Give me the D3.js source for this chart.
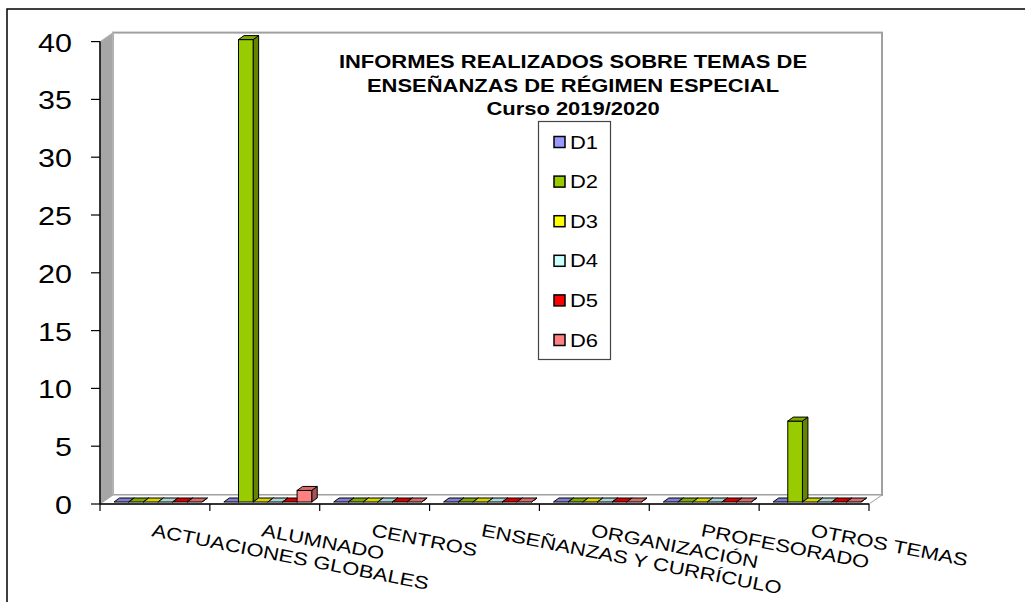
<!DOCTYPE html>
<html><head><meta charset="utf-8">
<script src="https://cdn.jsdelivr.net/npm/d3@7"></script>
<style>html,body{margin:0;padding:0;background:#fff;overflow:hidden}svg{display:block}text{font-family:"Liberation Sans",Arial,sans-serif}</style>
</head><body>
<svg id="c" width="1025" height="602"></svg>
<script>
const categories = ["ACTUACIONES GLOBALES","ALUMNADO","CENTROS","ENSEÑANZAS Y CURRÍCULO","ORGANIZACIÓN","PROFESORADO","OTROS TEMAS"];
const seriesNames = ["D1","D2","D3","D4","D5","D6"];
const D1 = [0,0,0,0,0,0,0];
const D2 = [0,40,0,0,0,0,7];
const D3 = [0,0,0,0,0,0,0];
const D4 = [0,0,0,0,0,0,0];
const D5 = [0,0,0,0,0,0,0];
const D6 = [0,1,0,0,0,0,0];
const yTicks = [0,5,10,15,20,25,30,35,40];
const titleLines = ["INFORMES REALIZADOS SOBRE TEMAS DE","ENSEÑANZAS DE RÉGIMEN ESPECIAL","Curso 2019/2020"];
const colors = ["#9999FF","#99CC00","#FFFF00","#CCFFFF","#FF0000","#FF8080"];
const seriesValues = [D1,D2,D3,D4,D5,D6];

const svg = d3.select("#c");
const SX = 1.22;
const left = 100, right = 869, y0 = 504, yTop = 41.6;
const depthX = 13, depthY = -9;
const x = d3.scaleBand().domain(categories).range([left, right]).padding(0);
const xs = d3.scaleBand().domain(seriesNames).range([0, x.bandwidth()]).paddingInner(0).paddingOuter(0.75);
const y = d3.scaleLinear().domain([0, 40]).range([y0, yTop]);

// outer border
svg.append("rect").attr("x",7).attr("y",9).attr("width",1100).attr("height",700)
  .attr("fill","none").attr("stroke","#000").attr("stroke-width",1.5);

// back wall
svg.append("rect").attr("x",left+depthX).attr("y",yTop+depthY).attr("width",right-left).attr("height",y0-yTop)
  .attr("fill","#fff").attr("stroke","#a0a0a0").attr("stroke-width",2);
// side wall
svg.append("polygon").attr("points",[[left,yTop],[left+depthX,yTop+depthY],[left+depthX,y0+depthY],[left,y0]].map(p=>p.join(",")).join(" "))
  .attr("fill","#a6a6a6").attr("stroke","#c0c0c0").attr("stroke-width",1);
// floor
svg.append("polygon").attr("points",[[left,y0],[left+depthX,y0+depthY],[right+depthX,y0+depthY],[right,y0]].map(p=>p.join(",")).join(" "))
  .attr("fill","#fff").attr("stroke","#a0a0a0").attr("stroke-width",1);

// bars
const bOffX = 3, bOffY = -2, bDX = 5.5, bDY = -4;
const gBars = svg.append("g");
categories.forEach((cat, ci) => {
  seriesNames.forEach((s, si) => {
    const v = seriesValues[si][ci];
    const c = d3.color(colors[si]);
    const x1 = x(cat) + xs(s) + bOffX, x2 = x1 + xs.bandwidth();
    const yb = y(0) + bOffY, yt = y(v) + bOffY;
    const poly = pts => pts.map(p=>p.join(",")).join(" ");
    // side
    gBars.append("polygon").attr("points", poly([[x2,yb],[x2+bDX,yb+bDY],[x2+bDX,yt+bDY],[x2,yt]]))
      .attr("fill", c.darker(1.2)).attr("stroke","#000").attr("stroke-width",1).attr("stroke-linejoin","round");
    // front
    gBars.append("rect").attr("x",x1).attr("y",yt).attr("width",x2-x1).attr("height",yb-yt)
      .attr("fill", colors[si]).attr("stroke","#000").attr("stroke-width",1);
    // top
    gBars.append("polygon").attr("points", poly([[x1,yt],[x1+bDX,yt+bDY],[x2+bDX,yt+bDY],[x2,yt]]))
      .attr("fill", c.darker(0.5)).attr("stroke","#000").attr("stroke-width",1).attr("stroke-linejoin","round");
  });
});

// axes
svg.append("line").attr("x1",left).attr("x2",left).attr("y1",y(40)).attr("y2",y0).attr("stroke","#000").attr("stroke-width",1.5);
svg.append("line").attr("x1",left).attr("x2",right).attr("y1",y0).attr("y2",y0).attr("stroke","#000").attr("stroke-width",1.5);
yTicks.forEach(t => {
  svg.append("line").attr("x1",left-9).attr("x2",left).attr("y1",y(t)).attr("y2",y(t)).attr("stroke","#000").attr("stroke-width",1.2);
  svg.append("text").attr("transform",`translate(${left-28},${y(t)+10}) scale(${SX},1)`)
    .attr("text-anchor","end").attr("font-size",25).attr("fill","#000").text(t);
});
const bounds = categories.map(c => x(c)).concat([right]);
bounds.forEach(b => {
  svg.append("line").attr("x1",b).attr("x2",b).attr("y1",y0).attr("y2",y0+7).attr("stroke","#000").attr("stroke-width",1.2);
});
categories.forEach(c => {
  svg.append("text").attr("transform",`translate(${x(c)+x.bandwidth()/2-4},${536}) rotate(11) scale(${SX},1)`)
    .attr("font-size",18).attr("fill","#000").text(c);
});

// title
const tcx = 573;
[[titleLines[0],68,18],[titleLines[1],92,18],[titleLines[2],115,18]].forEach(([t,by,fs]) => {
  svg.append("text").attr("transform",`translate(${tcx},${by}) scale(${SX},1)`).attr("text-anchor","middle")
    .attr("font-size",fs).attr("font-weight","bold").attr("fill","#000").text(t);
});

// legend
svg.append("rect").attr("x",538.5).attr("y",121.5).attr("width",72).attr("height",238)
  .attr("fill","#fff").attr("stroke","#444").attr("stroke-width",1.2);
seriesNames.forEach((s, i) => {
  const cy = 142 + i*39.6;
  svg.append("rect").attr("x",554).attr("y",cy-5.5).attr("width",11).attr("height",11)
    .attr("fill",colors[i]).attr("stroke","#000").attr("stroke-width",1.5);
  svg.append("text").attr("transform",`translate(${570},${cy+6.5}) scale(${SX},1)`)
    .attr("font-size",18).attr("fill","#000").text(s);
});
</script>
</body></html>
